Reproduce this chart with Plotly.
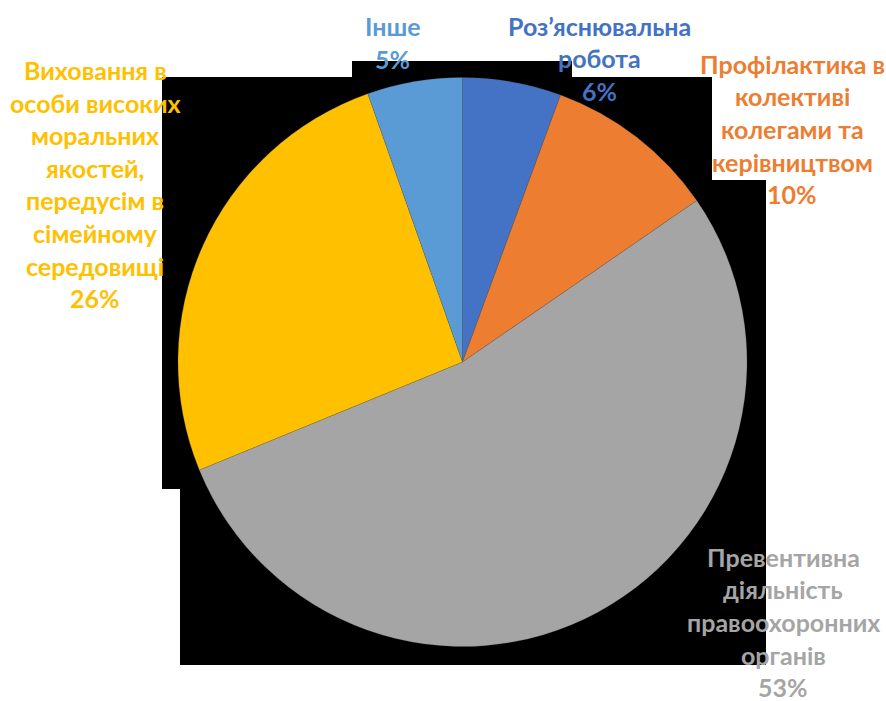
import plotly.graph_objects as go

# Survey shares (per cent), clockwise from 12 o'clock
categories = [
    "Роз’яснювальна<br>робота",
    "Профілактика в<br>колективі<br>колегами та<br>керівництвом",
    "Превентивна<br>діяльність<br>правоохоронних<br>органів",
    "Виховання в<br>особи високих<br>моральних<br>якостей,<br>передусім в<br>сімейному<br>середовищі",
    "Інше",
]
values = [5.6, 9.8, 53.4, 25.8, 5.4]
colors = ["#4472C4", "#ED7D31", "#A5A5A5", "#FFC000", "#5B9BD5"]

# Label block centres in pixels (x, y from top)
label_pos = [(599, 58.5), (792, 129), (783, 622), (95, 184), (392.5, 42.5)]
line_step = 32.6

W, H = 886, 701
cx, cy, r = 462.5, 362.0, 284.5

fig = go.Figure(
    go.Pie(
        labels=categories,
        values=values,
        marker=dict(colors=colors, line=dict(color="rgba(90,90,90,0.35)", width=0.6)),
        sort=False,
        direction="clockwise",
        rotation=0,
        textinfo="none",
        hoverinfo="label+percent",
        showlegend=False,
        domain=dict(
            x=[(cx - r) / W, (cx + r) / W],
            y=[1 - (cy + r) / H, 1 - (cy - r) / H],
        ),
    )
)

# Dark backdrop behind the pie
pts = [(162, 77), (352, 77), (352, 61), (572, 61), (572, 77), (712, 77),
       (712, 180), (766, 180), (766, 665), (180, 665), (180, 489), (162, 489)]
path = "M " + " L ".join(f"{x / W:.5f},{1 - y / H:.5f}" for x, y in pts) + " Z"
fig.add_shape(type="path", path=path, xref="paper", yref="paper",
              fillcolor="black", line=dict(width=0), layer="below")

total = sum(values)
for cat, val, col, (px, py) in zip(categories, values, colors, label_pos):
    lines = cat.split("<br>") + [f"{round(val / total * 100)}%"]
    y0 = py - line_step * (len(lines) - 1) / 2
    for i, line in enumerate(lines):
        fig.add_annotation(
            x=px / W, y=1 - (y0 + i * line_step) / H, xref="paper", yref="paper",
            xanchor="center", yanchor="middle", showarrow=False,
            text=f"<b>{line}</b>",
            font=dict(family="Lato, sans-serif", size=25, color=col),
        )

fig.update_layout(
    width=W, height=H,
    margin=dict(l=0, r=0, t=0, b=0),
    paper_bgcolor="white",
    plot_bgcolor="white",
)

fig.write_html("out.html")
